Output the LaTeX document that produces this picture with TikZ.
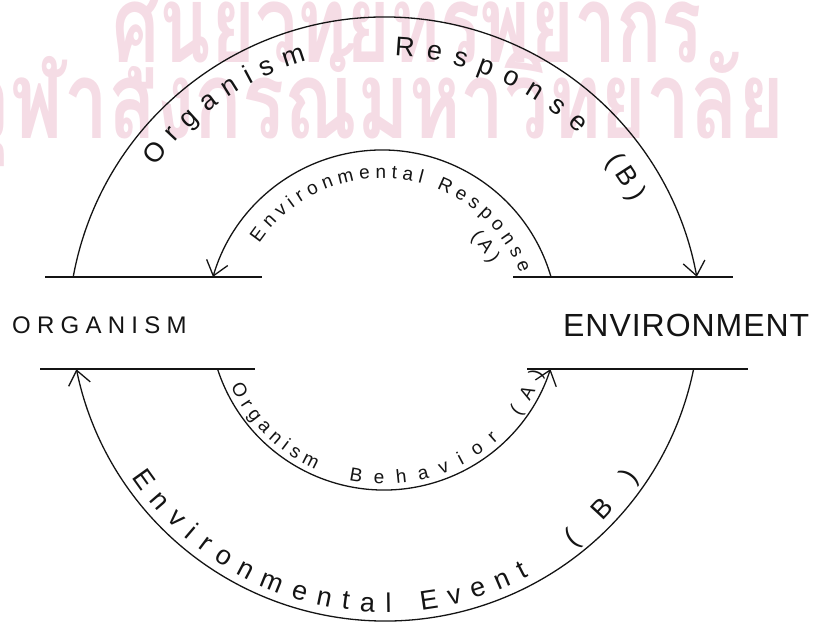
\documentclass[tikz,border=0pt]{standalone}
\usepackage{fontspec}
\setmainfont{Liberation Sans}
\newfontfamily\thaifont[Script=Thai]{Loma}
\usepackage{tikz}
\usetikzlibrary{arrows.meta,decorations.text,calc}
\definecolor{ink}{HTML}{141414}
\definecolor{stamp}{HTML}{F5DCE5}
\newcommand\bigarc{\fontsize{27}{27}\selectfont}
\newcommand\smallarc{\fontsize{19}{19}\selectfont}
\tikzset{
  band/.style={line width=1.5pt,draw=ink},
  loop/.style={line width=1.3pt,draw=ink,-{Straight Barb[length=14pt,width=22pt]}},
  lab/.style={inner sep=0pt,text=ink},
  wmark/.style={inner sep=0pt,text=stamp,font=\thaifont\bfseries\fontsize{108}{108}\selectfont},
  arctext/.style={decorate,decoration={text along path,text align=fit to path,text color=ink,text={#1}}},
}

\begin{document}
\begin{tikzpicture}[x=1pt,y=1pt]
  \useasboundingbox (0,0) rectangle (819,-631);
  % watermark
  \node[wmark,anchor=base west] (wm1) at (112,-63) {\resizebox{590pt}{\height}{ศูนย์วิทยทรัพยากร}};
  \node[wmark,anchor=base east] (wm2) at (785,-139) {\resizebox{820pt}{\height}{จุฬาลงกรณ์มหาวิทยาลัย}};
  % the two labels
  \node[lab,anchor=west,font=\fontsize{24}{24}\selectfont\addfontfeatures{LetterSpace=26}] (org) at (12,-325) {ORGANISM};
  \node[lab,anchor=west,font=\fontsize{32}{32}\selectfont\addfontfeatures{LetterSpace=3}] (env) at (563,-325) {ENVIRONMENT};
  % band lines
  \coordinate (lt1) at (45,-277);  \coordinate (lt2) at (262,-277);
  \coordinate (lb1) at (40,-369);  \coordinate (lb2) at (255,-369);
  \coordinate (rt1) at (513,-277); \coordinate (rt2) at (733,-277);
  \coordinate (rb1) at (527,-369); \coordinate (rb2) at (748,-369);
  \draw[band] (lt1)--(lt2); \draw[band] (lb1)--(lb2);
  \draw[band] (rt1)--(rt2); \draw[band] (rb1)--(rb2);
  % arc centres
  \coordinate (c1) at (385,-334);
  \coordinate (c2) at (385,-306);
  \coordinate (c3) at (382,-326);
  \coordinate (c4) at (384,-315);
  % outer loop (B)
  \coordinate (ot) at ($(c1)+(169.6:317)$);
  \draw[loop] (ot) arc[start angle=169.6,end angle=10.4,radius=317];
  \coordinate (ob) at ($(c2)+(-11.6:315)$);
  \draw[loop] (ob) arc[start angle=-11.6,end angle=-168.4,radius=315];
  % inner loop (A)
  \coordinate (it) at ($(c3)+(16.2:176)$);
  \draw[loop] (it) arc[start angle=16.2,end angle=163.8,radius=176];
  \coordinate (ib) at ($(c4)+(-162:175)$);
  \draw[loop] (ib) arc[start angle=-162,end angle=-18,radius=175];
  % texts along the arcs
  \path[arctext={|\bigarc|Organism}] ($(c1)+(144:284)$) arc[start angle=144,end angle=106,radius=284];
  \path[arctext={|\bigarc|Response}] ($(c1)+(88:278)$) arc[start angle=88,end angle=46,radius=278];
  \path[arctext={|\bigarc|(B)}] ($(c1)+(38:280)$) arc[start angle=38,end angle=28,radius=280];
  \path[arctext={|\smallarc|Environmental Response}] ($(c3)+(146:148)$) arc[start angle=146,end angle=21,radius=148];
  \path[arctext={|\smallarc|(A)}] ($(c3)+(45:125)$) arc[start angle=45,end angle=30,radius=125];
  \path[arctext={|\smallarc|Organism}] ($(c4)+(205:169)$) arc[start angle=205,end angle=246,radius=169];
  \path[arctext={|\smallarc|Behavior (A)}] ($(c4)+(258:169)$) arc[start angle=258,end angle=340,radius=169];
  \path[arctext={|\bigarc|Environmental Event}] ($(c2)+(214:306)$) arc[start angle=214,end angle=298,radius=306];
  \path[arctext={|\bigarc|(B)}] ($(c2)+(308:306)$) arc[start angle=308,end angle=326,radius=306];
\end{tikzpicture}
\end{document}
